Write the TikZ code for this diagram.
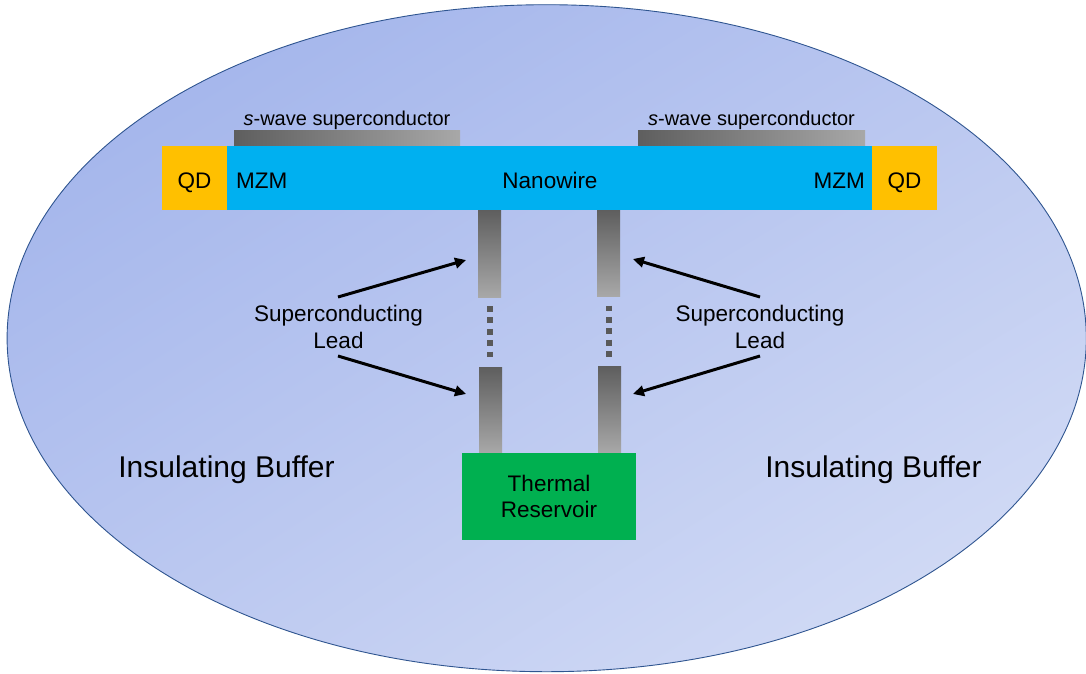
\documentclass[tikz,border=0pt]{standalone}
\usepackage{fontspec}
\setmainfont{Liberation Sans}
\usetikzlibrary{arrows.meta,shadings}
\definecolor{ellA}{HTML}{9DB0EA}
\definecolor{ellM}{HTML}{BAC7F0}
\definecolor{ellB}{HTML}{D8E0F6}
\definecolor{ellEdge}{HTML}{2F5590}
\definecolor{wireblue}{HTML}{00B0F0}
\definecolor{qdyellow}{HTML}{FFC000}
\definecolor{resgreen}{HTML}{00B050}
\definecolor{gdark}{HTML}{5E5E5E}
\definecolor{glight}{HTML}{A8A8A8}
\definecolor{dotgray}{HTML}{595959}
\tikzset{
  txt/.style={font=\fontsize{22.5}{26.5}\selectfont, inner sep=0pt, align=center, text=black},
  swave/.style={font=\fontsize{20}{24}\selectfont, inner sep=0pt, text=black},
  big/.style={font=\fontsize{30}{34}\selectfont, inner sep=0pt, text=black},
  box/.style={draw=none, inner sep=0pt, rectangle},
  hbar/.style={box, left color=gdark, right color=glight, minimum height=16pt},
  vlead/.style={box, top color=gdark, bottom color=glight, minimum width=23pt},
  arr/.style={line width=3pt, -{Triangle[length=11pt,width=10.5pt]}},
  dots/.style={dotgray, line width=6pt, dash pattern=on 5.8pt off 5.6pt}
}
\begin{document}
\begin{tikzpicture}[x=1pt,y=-1pt]
\useasboundingbox (0,0) rectangle (1086,673);
% insulating buffer ellipse
\shade[upper left=ellA, upper right=ellM, lower left=ellM, lower right=ellB]
  (546.7,338.2) ellipse [x radius=539.6, y radius=333.5];
\draw[ellEdge, line width=0.9pt] (546.7,338.2) ellipse [x radius=539.6, y radius=333.5];

% s-wave superconductors
\node[hbar, minimum width=226pt] (scL) at (347,138) {};
\node[hbar, minimum width=227pt] (scR) at (751.5,138) {};
\node[swave, anchor=base] (scLt) at (347,125) {\textit{s}-wave superconductor};
\node[swave, anchor=base] (scRt) at (751.5,125) {\textit{s}-wave superconductor};

% nanowire and quantum dots
\node[box, fill=wireblue, minimum width=645pt, minimum height=64pt] (wire) at (549.5,178) {};
\node[box, fill=qdyellow, minimum width=65pt, minimum height=64pt] (qdL) at (194.5,178) {};
\node[box, fill=qdyellow, minimum width=65pt, minimum height=64pt] (qdR) at (904.5,178) {};
\node[txt, anchor=base] (qdLt) at (194.5,188) {QD};
\node[txt, anchor=base] (qdRt) at (904.5,188) {QD};
\node[txt, anchor=base west] (mzmL) at (236,188) {MZM};
\node[txt, anchor=base east] (mzmR) at (865,188) {MZM};
\node[txt, anchor=base] (nw) at (550,188) {Nanowire};

% superconducting leads
\node[vlead, minimum height=87pt] (lu) at (489.5,253.5) {};
\node[vlead, minimum height=86pt] (ll) at (490.5,410) {};
\node[vlead, minimum height=86pt] (ru) at (608.5,253) {};
\node[vlead, minimum height=87pt] (rl) at (609.5,409.5) {};

% dotted continuation
\coordinate (dLt) at (490,306);
\coordinate (dLb) at (490,360);
\coordinate (dRt) at (609,305.5);
\coordinate (dRb) at (609,360);
\draw[dots] (dLt) -- (dLb);
\draw[dots] (dRt) -- (dRb);

% thermal reservoir
\node[box, fill=resgreen, minimum width=174pt, minimum height=87pt, txt] (res) at (549,496.5) {Thermal\\Reservoir};

% labels
\node[txt] (slL) at (338.5,327) {Superconducting\\Lead};
\node[txt] (slR) at (760,327) {Superconducting\\Lead};
\node[big, anchor=base] (ibL) at (226.5,477) {Insulating Buffer};
\node[big, anchor=base] (ibR) at (873.5,477) {Insulating Buffer};

% arrows
\coordinate (aL1s) at (338,297);
\coordinate (aL1e) at (466,260);
\coordinate (aL2s) at (338,356);
\coordinate (aL2e) at (466,394);
\coordinate (aR1s) at (760,297);
\coordinate (aR1e) at (633,259);
\coordinate (aR2s) at (760,356);
\coordinate (aR2e) at (633,394);
\draw[arr] (aL1s) -- (aL1e);
\draw[arr] (aL2s) -- (aL2e);
\draw[arr] (aR1s) -- (aR1e);
\draw[arr] (aR2s) -- (aR2e);
\end{tikzpicture}
\end{document}
